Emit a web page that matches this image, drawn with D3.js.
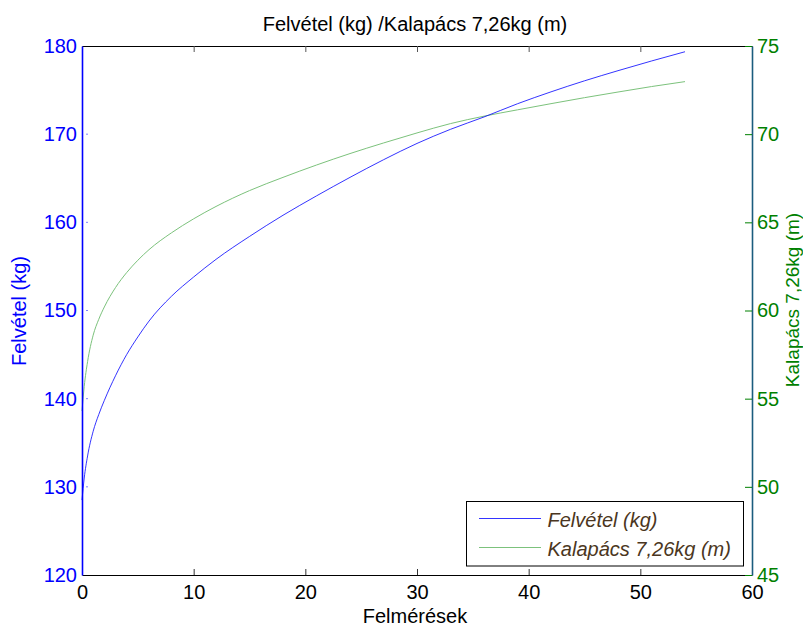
<!DOCTYPE html>
<html>
<head>
<meta charset="utf-8">
<script src="https://cdn.jsdelivr.net/npm/d3@7"></script>
<style>
	body { margin: 0; background: #fff; }
	svg { font-family: "Liberation Sans", Arial, sans-serif; }
</style>
</head>
<body>
<div id="chart"></div>
<script>
const felmeresek = [0, 0.2, 0.5, 1, 1.5, 2, 3, 4, 5, 6, 8, 10, 12, 15, 18, 21, 24, 27, 30, 33, 36, 39, 42, 45, 48, 51, 54];
const felvetel = [128.5, 131.0, 133.5, 136.3, 138.2, 139.8, 142.6, 145.0, 147.0, 148.8, 151.6, 153.8, 155.8, 158.4, 160.8, 163.0, 165.1, 167.1, 168.95, 170.55, 171.95, 173.45, 174.8, 176.05, 177.2, 178.3, 179.35];
const kalapacs = [54.3, 55.7, 57.1, 58.6, 59.5, 60.2, 61.3, 62.15, 62.85, 63.45, 64.4, 65.2, 65.9, 66.8, 67.55, 68.25, 68.9, 69.5, 70.07, 70.6, 71.02, 71.38, 71.73, 72.07, 72.39, 72.7, 72.98];

const xTicks = [0, 10, 20, 30, 40, 50, 60];
const leftTicks = [120, 130, 140, 150, 160, 170, 180];
const rightTicks = [45, 50, 55, 60, 65, 70, 75];

const title = "Felvétel (kg) /Kalapács 7,26kg (m)";
const xLabel = "Felmérések";
const leftLabel = "Felvétel (kg)";
const rightLabel = "Kalapács 7,26kg (m)";

const
	width = 803,
	height = 626,
	plotLeft = 82,
	plotRight = 752,
	plotTop = 46,
	plotBottom = 575;

const blue = "#0000ff";
const green = "#008000";
const lineGreen = "#7cc27c";

const svg = d3.select("#chart")
	.append("svg")
	.attr("width", width)
	.attr("height", height);

const x = d3.scaleLinear().domain([0, 60]).range([plotLeft, plotRight]);
const yL = d3.scaleLinear().domain([120, 180]).range([plotBottom, plotTop]);
const yR = d3.scaleLinear().domain([45, 75]).range([plotBottom, plotTop]);

// curves
const leftData = felmeresek.map((d, i) => ({ x: d, y: felvetel[i] }));
const rightData = felmeresek.map((d, i) => ({ x: d, y: kalapacs[i] }));

svg.append("path")
	.datum(rightData)
	.attr("fill", "none")
	.attr("stroke", lineGreen)
	.attr("stroke-width", 1)
	.attr("d", d3.line().x(d => x(d.x)).y(d => yR(d.y)).curve(d3.curveMonotoneX));

svg.append("path")
	.datum(leftData)
	.attr("fill", "none")
	.attr("stroke", blue)
	.attr("stroke-width", 0.8)
	.attr("d", d3.line().x(d => x(d.x)).y(d => yL(d.y)).curve(d3.curveMonotoneX));

// axes
const xBottom = svg.append("g")
	.attr("transform", `translate(0,${plotBottom})`)
	.call(d3.axisBottom(x).tickValues(xTicks).tickSize(-6).tickSizeOuter(0).tickPadding(10));
xBottom.select(".domain").attr("stroke", "#000").attr("stroke-width", 1.2);
xBottom.selectAll(".tick line").attr("stroke", "#333");
xBottom.selectAll("text").attr("fill", "#000").style("font-size", "20px");

const xTop = svg.append("g")
	.attr("transform", `translate(0,${plotTop})`)
	.call(d3.axisTop(x).tickValues(xTicks).tickSize(-6).tickSizeOuter(0).tickFormat(""));
xTop.select(".domain").attr("stroke", "#000").attr("stroke-width", 1.2);
xTop.selectAll(".tick line").attr("stroke", "#555");

const yLeft = svg.append("g")
	.attr("transform", `translate(${plotLeft},0)`)
	.call(d3.axisLeft(yL).tickValues(leftTicks).tickSize(0).tickPadding(5));
yLeft.select(".domain").attr("stroke", blue).attr("stroke-width", 1.6);
yLeft.selectAll("text").attr("fill", blue).style("font-size", "20px");

// tiny inner marks of the left axis
svg.selectAll(".ltick")
	.data(leftTicks.slice(1, -1))
	.enter()
	.append("rect")
	.attr("x", plotLeft + 4.5)
	.attr("y", d => yL(d) - 0.5)
	.attr("width", 1)
	.attr("height", 1)
	.attr("fill", blue);

const yRight = svg.append("g")
	.attr("transform", `translate(${plotRight},0)`)
	.call(d3.axisRight(yR).tickValues(rightTicks).tickSize(-7).tickSizeOuter(0).tickPadding(5));
yRight.select(".domain").attr("stroke", "#1b5c7e").attr("stroke-width", 1.6);
yRight.selectAll(".tick line").attr("stroke", green);
yRight.selectAll("text").attr("fill", green).style("font-size", "20px");

// texts
svg.append("text")
	.attr("x", 415)
	.attr("y", 31)
	.attr("text-anchor", "middle")
	.style("font-size", "20px")
	.text(title);

svg.append("text")
	.attr("x", 415)
	.attr("y", 623)
	.attr("text-anchor", "middle")
	.style("font-size", "20px")
	.text(xLabel);

svg.append("text")
	.attr("transform", "translate(26,311) rotate(-90)")
	.attr("text-anchor", "middle")
	.attr("fill", blue)
	.style("font-size", "20px")
	.text(leftLabel);

svg.append("text")
	.attr("transform", "translate(799,300) rotate(-90)")
	.attr("text-anchor", "middle")
	.attr("fill", green)
	.style("font-size", "19px")
	.text(rightLabel);

// legend
const legend = svg.append("g").attr("transform", "translate(466.5,501.5)");
legend.append("rect")
	.attr("width", 277)
	.attr("height", 64.5)
	.attr("fill", "#fff")
	.attr("stroke", "#000")
	.attr("stroke-width", 1);

const legendItems = [
	{ label: "Felvétel (kg)", color: blue, w: 0.8 },
	{ label: "Kalapács 7,26kg (m)", color: lineGreen, w: 1 },
];

legendItems.forEach((d, i) => {
	const ly = 17 + i * 29;
	legend.append("line")
		.attr("x1", 12.5)
		.attr("x2", 74.5)
		.attr("y1", ly)
		.attr("y2", ly)
		.attr("stroke", d.color)
		.attr("stroke-width", d.w);
	legend.append("text")
		.attr("x", 81)
		.attr("y", ly + 8)
		.attr("fill", "#4b3621")
		.style("font-size", "20px")
		.style("font-style", "italic")
		.text(d.label);
});
</script>
</body>
</html>
